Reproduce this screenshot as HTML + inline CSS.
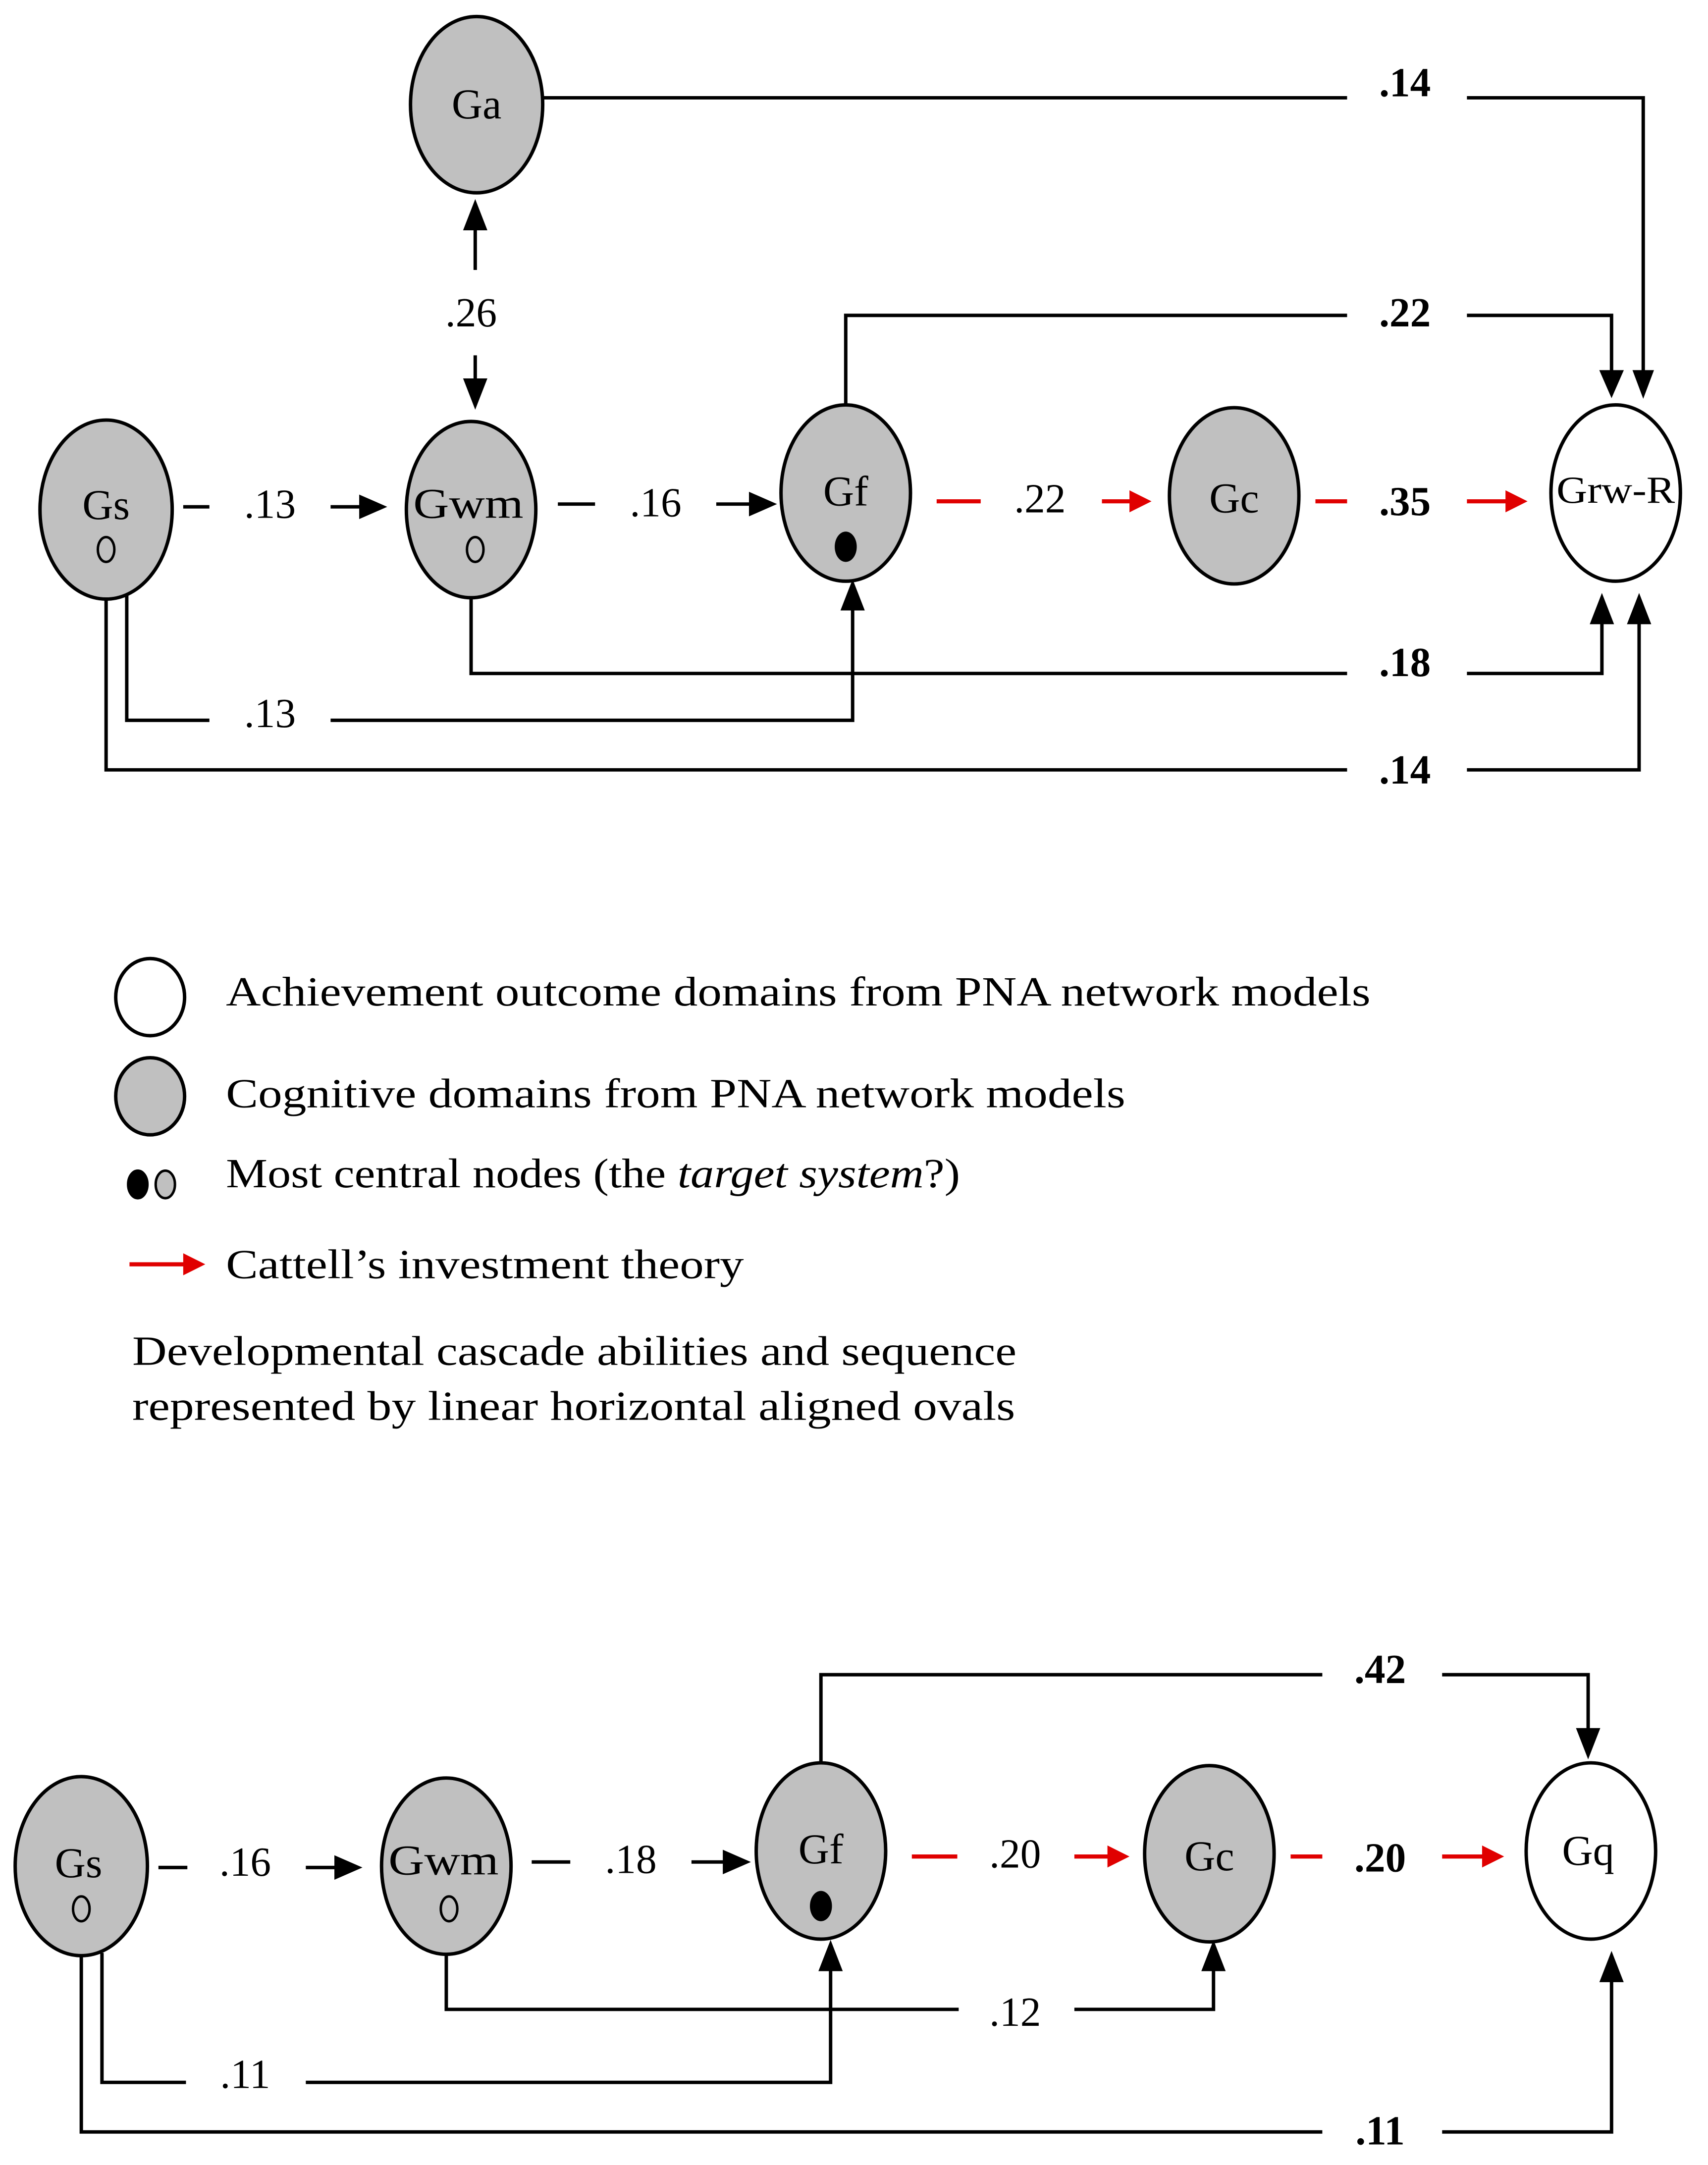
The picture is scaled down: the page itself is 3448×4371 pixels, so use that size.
<!DOCTYPE html>
<html><head><style>html,body{margin:0;padding:0;background:#fff}svg{display:block}</style></head><body>
<svg width="3448" height="4371" viewBox="0 0 1240 1572" xmlns="http://www.w3.org/2000/svg" font-family="'Liberation Serif',serif">
<g stroke="#000" stroke-width="2.5" fill="none">
<path d="M395,71H978M1065,71H1193V283"/>
<path d="M1187,270l6,16l6,-16z" fill="#000"/>
<path d="M614,294V229H978M1065,229H1170V283"/>
<path d="M1163,270l7,16l7,-16z" fill="#000"/>
<path d="M345,196V160"/><path d="M338,166l7,-18l7,18z" fill="#000"/>
<path d="M345,258V282"/><path d="M338,276l7,18l7,-18z" fill="#000"/>
<path d="M342,434V489H978M1065,489H1163V445"/><path d="M1156,452l7,-18l7,18z" fill="#000"/>
<path d="M92,430V523H152M240,523H619V436"/><path d="M612,442l7,-18l7,18z" fill="#000"/>
<path d="M77,435V559H978M1065,559H1190V445"/><path d="M1183,452l7,-18l7,18z" fill="#000"/>
<path d="M133,368H152M240,368H265"/><path d="M262,361l16,7l-16,7z" fill="#000"/>
<path d="M405,366H432M520,366H548"/><path d="M545,359l16,7l-16,7z" fill="#000"/>
<path d="M596,1280V1216H960M1047,1216H1153V1260"/><path d="M1146,1256l7,18l7,-18z" fill="#000"/>
<path d="M324,1419V1459H696M780,1459H881V1424"/><path d="M874,1430l7,-18l7,18z" fill="#000"/>
<path d="M74,1418V1512H135M222,1512H603V1424"/><path d="M596,1430l7,-18l7,18z" fill="#000"/>
<path d="M59,1420V1548H960M1047,1548H1170V1432"/><path d="M1163,1438l7,-18l7,18z" fill="#000"/>
<path d="M115,1356H136M222,1356H246"/><path d="M244,1349l16,7l-16,7z" fill="#000"/>
<path d="M386,1352H414M502,1352H528"/><path d="M526,1345l16,7l-16,7z" fill="#000"/>
</g>
<g stroke="#e00000" stroke-width="3" fill="none">
<path d="M680,364H712M800,364H822"/>
<path d="M955,364H978M1065,364H1095"/>
<path d="M662,1348H695M780,1348H806"/>
<path d="M937,1348H960M1047,1348H1078"/>
<path d="M94,918H135"/>
</g>
<g fill="#e00000">
<path d="M820,356l16,8l-16,8z"/><path d="M1093,356l16,8l-16,8z"/>
<path d="M804,1340l16,8l-16,8z"/><path d="M1076,1340l16,8l-16,8z"/>
<path d="M133,910l16,8l-16,8z"/>
</g>
<g stroke="#000" stroke-width="2.5">
<ellipse cx="346" cy="76" rx="48" ry="64" fill="#c0c0c0"/>
<ellipse cx="77" cy="370" rx="48" ry="65" fill="#c0c0c0"/>
<ellipse cx="342" cy="370" rx="47" ry="64" fill="#c0c0c0"/>
<ellipse cx="614" cy="358" rx="47" ry="64" fill="#c0c0c0"/>
<ellipse cx="896" cy="360" rx="47" ry="64" fill="#c0c0c0"/>
<ellipse cx="1173" cy="358" rx="47" ry="64" fill="#fff"/>
<ellipse cx="59" cy="1355" rx="48" ry="65" fill="#c0c0c0"/>
<ellipse cx="324" cy="1355" rx="47" ry="64" fill="#c0c0c0"/>
<ellipse cx="596" cy="1344" rx="47" ry="64" fill="#c0c0c0"/>
<ellipse cx="878" cy="1346" rx="47" ry="64" fill="#c0c0c0"/>
<ellipse cx="1155" cy="1344" rx="47" ry="64" fill="#fff"/>
<ellipse cx="109" cy="724" rx="25" ry="28" fill="#fff"/>
<ellipse cx="109" cy="796" rx="25" ry="28" fill="#c0c0c0"/>
</g>
<g stroke="#000" stroke-width="1.8">
<ellipse cx="77" cy="399" rx="6" ry="9" fill="none"/>
<ellipse cx="345" cy="399" rx="6" ry="9" fill="none"/>
<ellipse cx="59" cy="1386" rx="6" ry="9" fill="none"/>
<ellipse cx="326" cy="1386" rx="6" ry="9" fill="none"/>
<ellipse cx="100" cy="860" rx="7" ry="10" fill="#000"/>
<ellipse cx="120" cy="860" rx="7" ry="10" fill="#c0c0c0"/>
</g>
<ellipse cx="614" cy="397" rx="8" ry="11" fill="#000"/>
<ellipse cx="596" cy="1384" rx="8" ry="11" fill="#000"/>
<g font-size="31" text-anchor="middle" fill="#000">
<text x="346" y="86">Ga</text><text x="77" y="377">Gs</text><text x="340" y="376" textLength="80" lengthAdjust="spacingAndGlyphs">Gwm</text>
<text x="614" y="367">Gf</text><text x="896" y="372">Gc</text><text x="1173" y="365" font-size="28" textLength="86" lengthAdjust="spacingAndGlyphs">Grw-R</text>
<text x="57" y="1363">Gs</text><text x="322" y="1361" textLength="80" lengthAdjust="spacingAndGlyphs">Gwm</text><text x="596" y="1353">Gf</text><text x="878" y="1358">Gc</text><text x="1153" y="1354">Gq</text>
</g>
<g font-size="30" text-anchor="middle" fill="#000">
<text x="196" y="376">.13</text><text x="476" y="375">.16</text><text x="755" y="372">.22</text>
<text x="342" y="237">.26</text><text x="196" y="528">.13</text>
<text x="178" y="1362">.16</text><text x="458" y="1360">.18</text><text x="737" y="1356">.20</text>
<text x="737" y="1471">.12</text><text x="178" y="1516">.11</text>
<g font-weight="bold">
<text x="1020" y="70">.14</text><text x="1020" y="237">.22</text><text x="1020" y="374">.35</text>
<text x="1020" y="491">.18</text><text x="1020" y="569">.14</text>
<text x="1002" y="1222">.42</text><text x="1002" y="1359">.20</text><text x="1002" y="1557">.11</text>
</g>
</g>
<g font-size="30" fill="#000" lengthAdjust="spacingAndGlyphs">
<text x="164" y="730" textLength="831" lengthAdjust="spacingAndGlyphs">Achievement outcome domains from PNA network models</text>
<text x="164" y="804" textLength="653" lengthAdjust="spacingAndGlyphs">Cognitive domains from PNA network models</text>
<text x="164" y="862" textLength="533" lengthAdjust="spacingAndGlyphs">Most central nodes (the <tspan font-style="italic">target system</tspan>?)</text>
<text x="164" y="928" textLength="376" lengthAdjust="spacingAndGlyphs">Cattell’s investment theory</text>
<text x="96" y="991" textLength="642" lengthAdjust="spacingAndGlyphs">Developmental cascade abilities and sequence</text>
<text x="96" y="1031" textLength="641" lengthAdjust="spacingAndGlyphs">represented by linear horizontal aligned ovals</text>
</g>
</svg>
</body></html>
